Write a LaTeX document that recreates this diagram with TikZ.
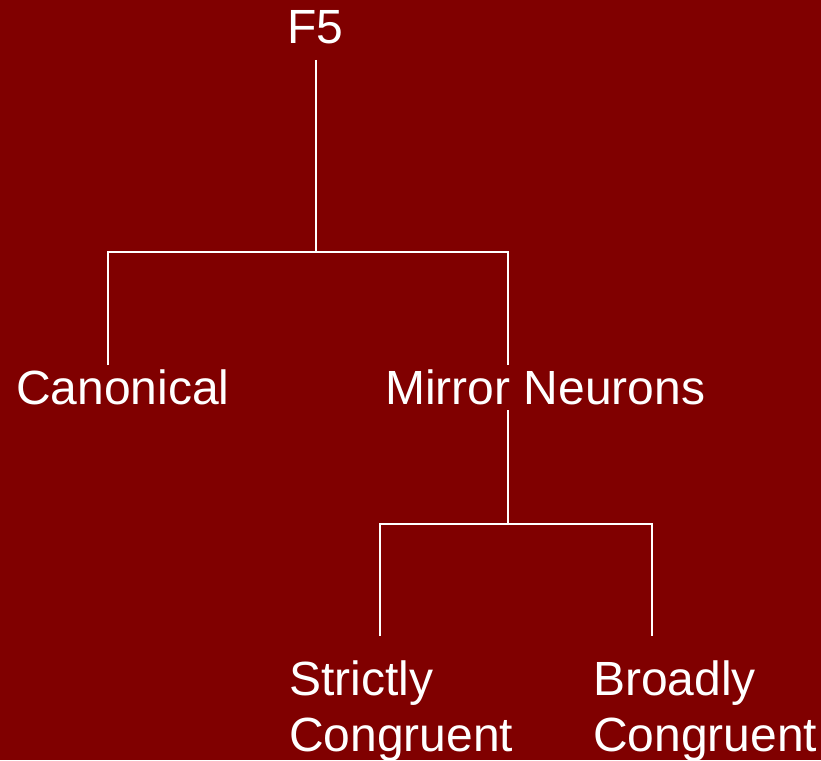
\documentclass[tikz,border=0pt]{standalone}
\usepackage{fontspec}
\setmainfont{Liberation Sans}
\definecolor{bg}{HTML}{800000}
\begin{document}
\begin{tikzpicture}[x=1pt,y=-1pt,
  lbl/.style={text=white,inner sep=0pt,anchor=base west,align=left,
    font=\fontsize{48}{56}\selectfont},
  conn/.style={draw=white,line width=1.5pt}]
\fill[bg] (0,0) rectangle (821,760);
\useasboundingbox (0,0) rectangle (821,760);
\node[lbl] (f5) at (287,44) {F5};
\node[lbl] (can) at (16,404) {Canonical};
\node[lbl] (mir) at (385,404) {Mirror Neurons};
\node[lbl] (str) at (289,751) {Strictly\\Congruent};
\node[lbl] (bro) at (593,751) {Broadly\\Congruent};
\coordinate (t0) at (316,60);
\coordinate (j1) at (316,252);
\coordinate (jl) at (108,252);
\coordinate (jr) at (508,252);
\coordinate (cl) at (108,365);
\coordinate (cr) at (508,365);
\coordinate (m0) at (508,410);
\coordinate (j2) at (508,524);
\coordinate (kl) at (380,524);
\coordinate (kr) at (652,524);
\coordinate (sl) at (380,636);
\coordinate (sr) at (652,636);
\draw[conn] (t0) -- (j1);
\draw[conn] (cl) -- (jl) -- (jr) -- (cr);
\draw[conn] (m0) -- (j2);
\draw[conn] (sl) -- (kl) -- (kr) -- (sr);
\end{tikzpicture}
\end{document}
